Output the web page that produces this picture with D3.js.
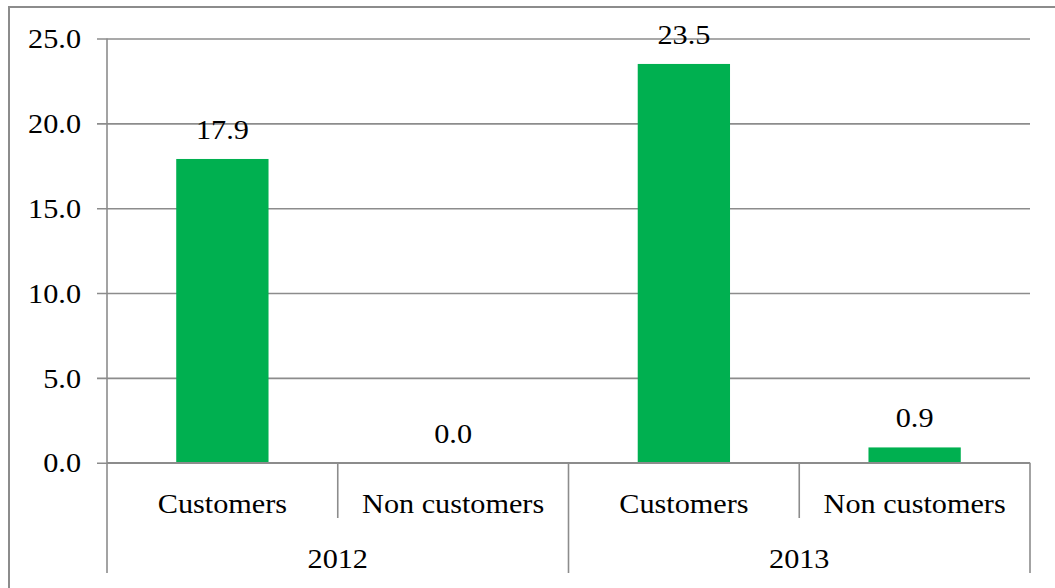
<!DOCTYPE html>
<html>
<head>
<meta charset="utf-8">
<script src="https://cdn.jsdelivr.net/npm/d3@7"></script>
<style>
  html, body { margin: 0; padding: 0; background: #fff; }
  svg { display: block; }
</style>
</head>
<body>
<svg id="chart" width="1055" height="588"></svg>
<script>
// Survey results by year and respondent group
const years = ["2012", "2013"];
const groups = ["Customers", "Non customers"];
const values = [17.9, 0.0, 23.5, 0.9];   // order: 2012 C, 2012 NC, 2013 C, 2013 NC
const yTicks = [0, 5, 10, 15, 20, 25];

(function draw() {
  const rows = [];
  years.forEach((yr, i) => groups.forEach((g, j) => {
    rows.push({ key: yr + "|" + g, year: yr, group: g, value: values[i * groups.length + j] });
  }));

  const svg = d3.select("#chart");
  const W = 1055, H = 588;
  const plotL = 107, plotR = 1030, plotT = 38.5, plotB = 462.7;
  const lineColor = "#8c8c8c";
  const serif = "'Liberation Serif'";
  const stretch = 1.08;   // labels are set slightly wide

  // place a label at (px, py) with the serif face, stretched horizontally
  function label(sel, px, py) {
    return sel
      .attr("x", null).attr("y", null)
      .attr("transform", (d, i, n) => `translate(${px(d, i, n)},${py(d, i, n)}) scale(${stretch},1)`)
      .style("font-family", serif).style("font-size", "28px").attr("fill", "#000");
  }

  // outer chart frame (runs past the right and bottom edges of the page)
  svg.append("rect")
    .attr("x", 9).attr("y", 7).attr("width", W + 20).attr("height", H + 20)
    .attr("fill", "none").attr("stroke", lineColor).attr("stroke-width", 2);

  const x = d3.scaleBand().domain(rows.map(d => d.key)).range([plotL, plotR]).paddingInner(0).paddingOuter(0);
  const y = d3.scaleLinear().domain([0, 25]).range([plotB, plotT]);

  // horizontal gridlines with outward tick marks
  const yAxis = d3.axisLeft(y).tickValues(yTicks).tickSize(-(plotR - plotL)).tickFormat(d3.format(".1f"));
  const gy = svg.append("g").attr("transform", `translate(${plotL},0)`).call(yAxis);
  gy.attr("font-family", null).attr("font-size", null);
  gy.select(".domain").remove();
  gy.selectAll(".tick line").attr("stroke", lineColor).attr("stroke-width", 1.6).attr("x1", -10);
  label(gy.selectAll(".tick text").attr("dy", "0.33em"), () => -26, () => 0);

  // bars
  const bw = x.bandwidth() * 0.4;
  svg.append("g").selectAll("rect").data(rows).join("rect")
    .attr("x", d => x(d.key) + (x.bandwidth() - bw) / 2)
    .attr("y", d => y(d.value))
    .attr("width", bw)
    .attr("height", d => y(0) - y(d.value))
    .attr("fill", "#00b050");

  // value labels
  label(svg.append("g").selectAll("text").data(rows).join("text")
    .attr("text-anchor", "middle")
    .text(d => d3.format(".1f")(d.value)),
    d => x(d.key) + x.bandwidth() / 2, d => y(d.value) - 20);

  // y axis line, extended down through the category rows
  svg.append("line")
    .attr("x1", plotL).attr("x2", plotL).attr("y1", plotT).attr("y2", 573)
    .attr("stroke", lineColor).attr("stroke-width", 1.6);

  // baseline
  svg.append("line")
    .attr("x1", plotL).attr("x2", plotR).attr("y1", y(0)).attr("y2", y(0))
    .attr("stroke", lineColor).attr("stroke-width", 1.6);

  // multi-level category separators
  const sep = svg.append("g").attr("stroke", lineColor).attr("stroke-width", 1.6);
  rows.forEach((d, i) => {
    if (i === 0) return;
    const xs = x(d.key);
    const yearBoundary = i % groups.length === 0;
    sep.append("line").attr("x1", xs).attr("x2", xs).attr("y1", y(0)).attr("y2", yearBoundary ? 573 : 518);
  });
  sep.append("line").attr("x1", plotR).attr("x2", plotR).attr("y1", y(0)).attr("y2", 573);

  // group labels
  label(svg.append("g").selectAll("text").data(rows).join("text")
    .attr("text-anchor", "middle")
    .text(d => d.group),
    d => x(d.key) + x.bandwidth() / 2, () => 513);

  // year labels
  label(svg.append("g").selectAll("text").data(years).join("text")
    .attr("text-anchor", "middle")
    .text(yr => yr),
    yr => {
      const ks = rows.filter(r => r.year === yr).map(r => r.key);
      return (x(ks[0]) + x(ks[ks.length - 1]) + x.bandwidth()) / 2;
    }, () => 568);
})();
</script>
</body>
</html>
